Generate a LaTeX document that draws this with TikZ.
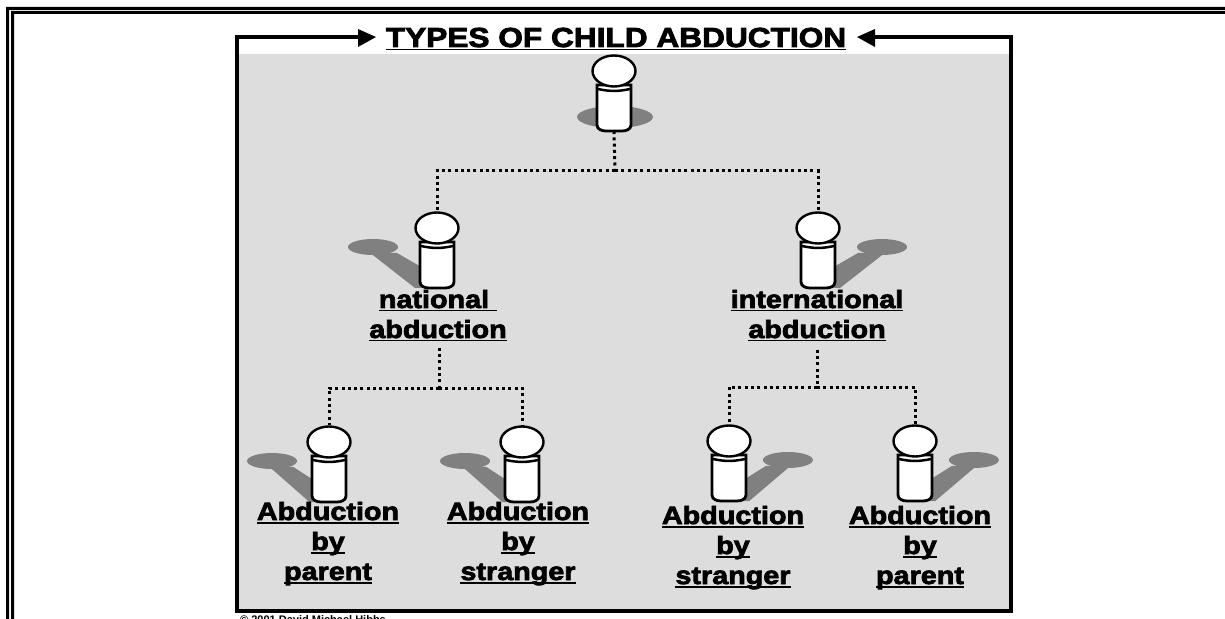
\documentclass[tikz,border=0pt]{standalone}
\usepackage{fontspec}
\usepackage{xcolor}
\usetikzlibrary{shapes.geometric}
\newfontfamily\blackfont[FakeBold=3,FakeStretch=1.15,UprightFont=* Bold]{Liberation Sans}
\definecolor{panelgray}{HTML}{DDDDDD}
\definecolor{shadowgray}{HTML}{808080}
\newcommand{\ul}[1]{\setbox0\hbox{#1}\rlap{\rule[-3.5bp]{\wd0}{1.5bp}}\box0}
% shadow of a pin: x, y of the head, direction and reach
\newcommand{\pinshadow}[3]{
	\begin{scope}[shift={(#1,#2)}]
		\fill[shadowgray] (#3*64,19) ellipse (25 and 8);
		\fill[shadowgray] (#3*68,24) -- (#3*22,60) -- (0,60) -- (#3*14,40) -- (#3*40,25) -- cycle;
	\end{scope}
}
% one pin: name, x, y of the head
\newcommand{\pin}[3]{
	\begin{scope}[shift={(#2,#3)}]
		\draw[pinline,fill=white] (-17,14) -- (-17,54) to[out=-90,in=180] (-8,60) -- (8,60) to[out=0,in=-90] (17,54) -- (17,14) -- cycle;
		\draw[line width=2.5bp] (-16,18) to[bend right=12] (16,18);
		\node[pinhead] (#1) at (0,0) {};
		\node[pinfoot] (#1base) at (0,60) {};
	\end{scope}
}
\begin{document}
\begin{tikzpicture}[x=1bp,y=-1bp,
	pinline/.style={line width=2.8bp},
	pinhead/.style={ellipse,draw,line width=2.4bp,fill=white,minimum width=43bp,minimum height=31bp,inner sep=0pt},
	pinfoot/.style={coordinate},
	link/.style={line width=3bp,dash pattern=on 3bp off 3.3bp},
	frameline/.style={line width=4bp},
	label/.style={font=\blackfont\fontsize{25bp}{30bp}\selectfont,align=center,anchor=base,inner sep=0pt}
]
	\useasboundingbox (0,0) rectangle (1225,619);
	\begin{scope}
		\clip (0,0) rectangle (1225,619);
		% page rules
		\fill (1225,7) -- (6,7) -- (6,619) -- (9,619) -- (9,10) -- (1225,10) -- cycle;
		\fill (1225,11) -- (11,11) -- (11,619) -- (14,619) -- (14,14) -- (1225,14) -- cycle;
		\node[inner sep=0pt,anchor=base west,font=\fontspec{Liberation Sans Bold}\fontsize{11bp}{11bp}\selectfont] (credit) at (240,623) {© 2001 David Michael Hibbs};
	\end{scope}

	\fill[panelgray] (237,54) rectangle (1011,611);
	\coordinate (frameleft) at (376,37);
	\coordinate (frameright) at (857,37);
	\coordinate (frameleftb) at (237,37);
	\coordinate (framerightb) at (1011,37);
	\draw[frameline] (358,37) -- (frameleftb) -- (237,611) -- (1011,611) -- (framerightb) -- (875,37);
	\fill (frameleft) -- (358,29) -- (358,47) -- cycle;
	\fill (frameright) -- (875,29) -- (875,47) -- cycle;

	\node[inner sep=0pt,anchor=base,font=\blackfont\fontsize{27.5bp}{30bp}\selectfont] (title) at (616,47) {\ul{TYPES OF CHILD ABDUCTION}};

	\fill[shadowgray] (615,117) ellipse (38 and 11);
	\pinshadow{437}{228}{-1}
	\pinshadow{818}{228}{1}
	\pinshadow{329}{442}{-0.89}
	\pinshadow{522}{442}{-0.89}
	\pinshadow{729}{441}{0.92}
	\pinshadow{915}{441}{0.92}

	\pin{rootpin}{614}{71}
	\pin{natpin}{437}{228}
	\pin{intpin}{818}{228}
	\pin{natparpin}{329}{442}
	\pin{natstrpin}{522}{442}
	\pin{intstrpin}{729}{441}
	\pin{intparpin}{915}{441}

	\node[label] (natlabel) at (438,338) {\ul{national\ }\\\ul{abduction}};
	\node[label] (intlabel) at (817,338) {\ul{international}\\\ul{abduction}};
	\node[label] (natparlabel) at (328,580) {\ul{Abduction}\\\ul{by}\\\ul{parent}};
	\node[label] (natstrlabel) at (518,580) {\ul{Abduction}\\\ul{by}\\\ul{stranger}};
	\node[label] (intstrlabel) at (733,584) {\ul{Abduction}\\\ul{by}\\\ul{stranger}};
	\node[label] (intparlabel) at (920,584) {\ul{Abduction}\\\ul{by}\\\ul{parent}};

	\coordinate (rootjoin) at (615,171);
	\coordinate (natjoin) at (439,388);
	\coordinate (intjoin) at (817,387);
	\draw[link] (rootpinbase) -- (rootjoin);
	\draw[link] (rootjoin) -| (natpin.north);
	\draw[link] (rootjoin) -| (intpin.north);
	\draw[link,shorten <=6bp] (natlabel.south -| natjoin) -- (natjoin);
	\draw[link] (natjoin) -| (natparpin.north);
	\draw[link] (natjoin) -| (natstrpin.north);
	\draw[link,shorten <=8bp] (intlabel.south -| intjoin) -- (intjoin);
	\draw[link] (intjoin) -| (intstrpin.north);
	\draw[link] (intjoin) -| (intparpin.north);
\end{tikzpicture}
\end{document}
